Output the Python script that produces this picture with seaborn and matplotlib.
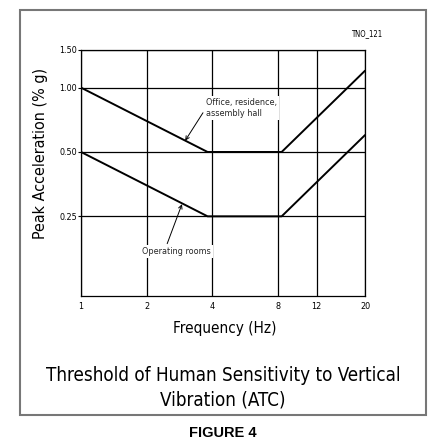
import numpy as np
import pandas as pd
import seaborn as sns
import matplotlib
matplotlib.use("Agg")
import matplotlib.pyplot as plt
from matplotlib.patches import Rectangle

# corner points of the two threshold curves
freq = [1, 3.8, 8.3, 20]
office = [1.0, 0.5, 0.5, 1.2]
operating = [0.5, 0.25, 0.25, 0.6]

x_ticks = [1, 2, 4, 8, 12, 20]
x_labels = ["1", "2", "4", "8", "12", "20"]
y_ticks = [0.25, 0.5, 1.0, 1.5]
y_labels = ["0.25", "0.50", "1.00", "1.50"]

df = pd.DataFrame({
    "freq": freq * 2,
    "acc": office + operating,
    "curve": ["Office, residence,\nassembly hall"] * 4 + ["Operating rooms"] * 4,
})

sns.set_style("ticks")
plt.rcParams["font.family"] = ["DejaVu Sans"]
plt.rcParams["font.stretch"] = "condensed"
plt.rcParams["font.weight"] = "light"

fig = plt.figure(figsize=(4.37, 4.48), dpi=100)
ax = fig.add_axes([0.1854, 0.3393, 0.6499, 0.5491])

sns.lineplot(data=df, x="freq", y="acc", hue="curve", palette=["black", "black"],
             linewidth=1.4, legend=False, ax=ax, sort=False)

ax.set_xscale("log")
ax.set_yscale("log")
ax.set_xlim(1, 20)
ax.set_ylim(0.106, 1.5)
ax.set_xticks(x_ticks)
ax.set_xticklabels(x_labels)
ax.set_yticks(y_ticks)
ax.set_yticklabels(y_labels)
ax.minorticks_off()
ax.grid(True, color="black", linewidth=0.9)
ax.set_axisbelow(True)
for s in ax.spines.values():
    s.set_color("black")
    s.set_linewidth(0.9)
ax.tick_params(axis="x", length=0, pad=4, labelsize=6.5, colors="black")
ax.tick_params(axis="y", length=2, pad=1, labelsize=6.5, colors="black")

ax.set_xlabel("Frequency (Hz)", fontsize=11, color="black")
ax.xaxis.set_label_coords(0.507, -0.1)
ax.set_ylabel("Peak Acceleration (% g)", fontsize=11.5, color="black")
ax.yaxis.set_label_coords(-0.116, 0.581)

ax.annotate("Office, residence,\nassembly hall", xy=(3.0, 0.565), xycoords="data",
            xytext=(0.44, 0.764), textcoords="axes fraction", ha="left", va="center",
            fontsize=6.5, linespacing=1.25,
            bbox=dict(boxstyle="square,pad=0.25", fc="white", ec="none"),
            arrowprops=dict(arrowstyle="->", color="black", lw=0.7,
                            relpos=(0, 0.5), shrinkA=1, shrinkB=0))
ax.annotate("Operating rooms", xy=(2.9, 0.285), xycoords="data",
            xytext=(0.214, 0.18), textcoords="axes fraction", ha="left", va="center",
            fontsize=6.5,
            bbox=dict(boxstyle="square,pad=0.25", fc="white", ec="none"),
            arrowprops=dict(arrowstyle="->", color="black", lw=0.7,
                            relpos=(0.35, 1), shrinkA=1, shrinkB=0))

fig.text(0.84, 0.926, "TNO_121", fontsize=5.5, ha="center", va="center", color="black")
fig.text(0.51, 0.134, "Threshold of Human Sensitivity to Vertical\nVibration (ATC)",
         fontsize=13.5, ha="center", va="center", linespacing=1.4, color="black")
fig.text(0.51, 0.034, "FIGURE 4", fontsize=10.5, fontweight="bold", ha="center",
         va="center", family="Liberation Sans", stretch="normal", color="black")

fig.patches.append(Rectangle((20 / 437, 1 - 415 / 448), 406 / 437, 405 / 448,
                             transform=fig.transFigure, fill=False,
                             ec="#777777", lw=1.5))

fig.savefig("out.png", dpi=100)
